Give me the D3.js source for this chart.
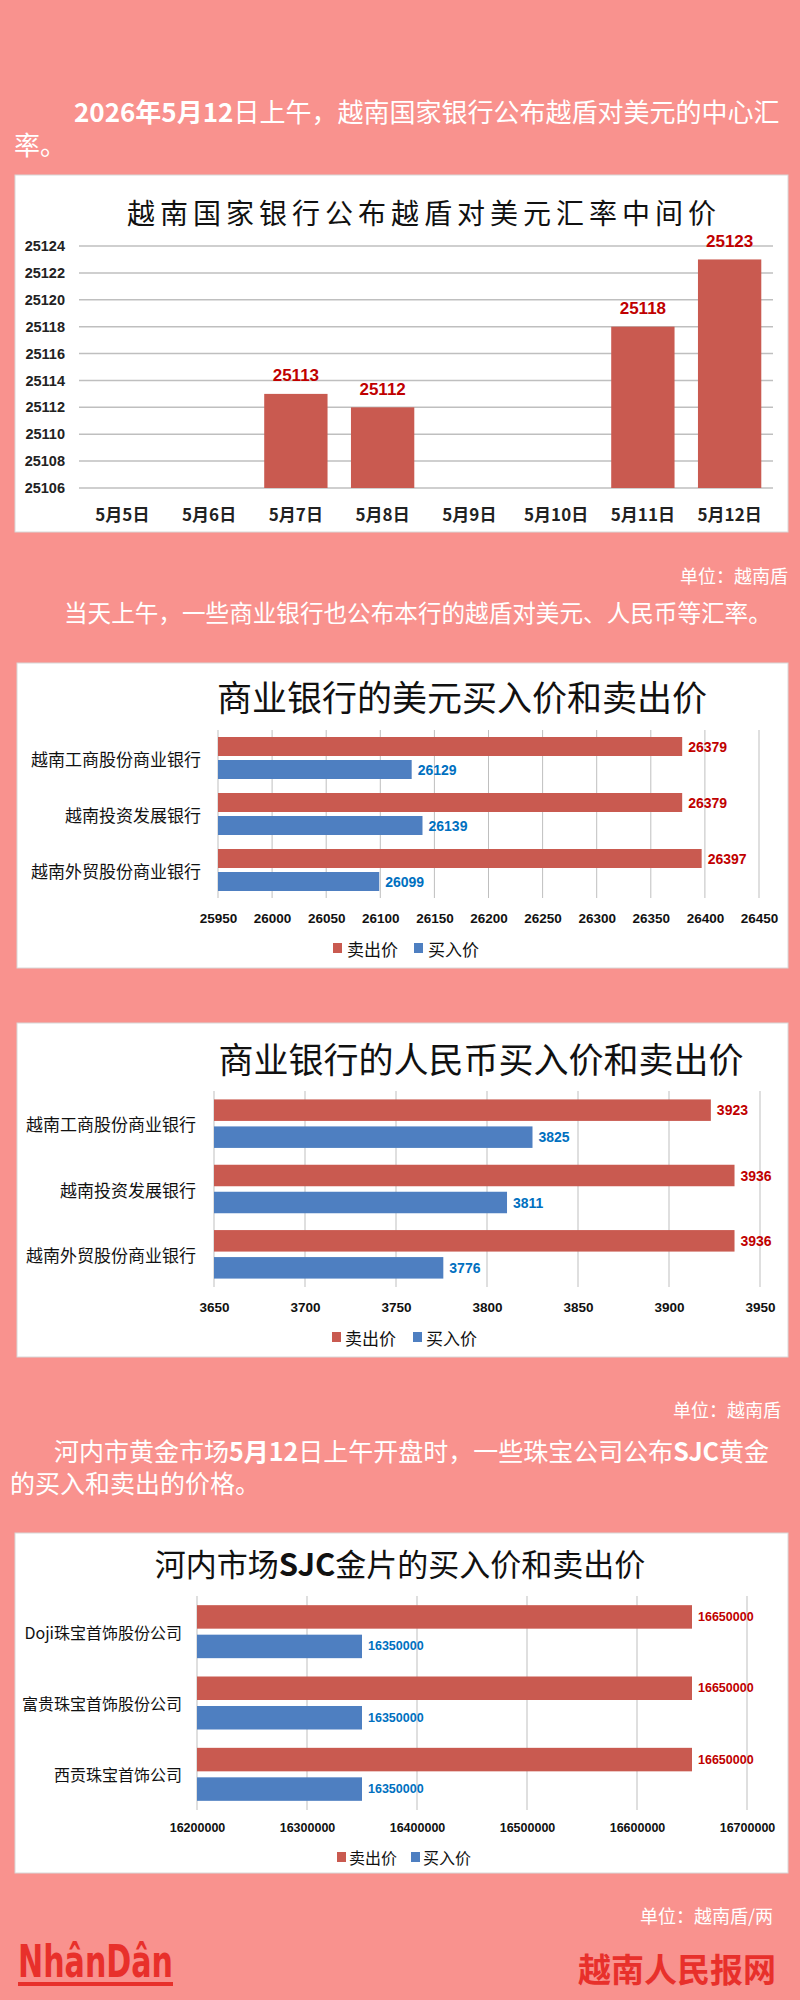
<!DOCTYPE html>
<html><head><meta charset="utf-8">
<script src="https://cdn.jsdelivr.net/npm/d3@7/dist/d3.min.js"></script>
<style>
html,body{margin:0;padding:0;background:#F9928E;}
svg{display:block;}
</style></head>
<body>
<script>
// ---------- DATA ----------
const days = ["5月5日","5月6日","5月7日","5月8日","5月9日","5月10日","5月11日","5月12日"];
const midRate = [null, null, 25113, 25112, null, null, 25118, 25123];
const midTicks = [25106,25108,25110,25112,25114,25116,25118,25120,25122,25124];

const series = ["卖出价","买入价"];
const banks = ["越南工商股份商业银行","越南投资发展银行","越南外贸股份商业银行"];
const usdSell = [26379, 26379, 26397];
const usdBuy  = [26129, 26139, 26099];
const usdTicks = [25950,26000,26050,26100,26150,26200,26250,26300,26350,26400,26450];

const cnySell = [3923, 3936, 3936];
const cnyBuy  = [3825, 3811, 3776];
const cnyTicks = [3650,3700,3750,3800,3850,3900,3950];

const goldShops = ["Doji珠宝首饰股份公司","富贵珠宝首饰股份公司","西贡珠宝首饰公司"];
const goldSell = [16650000, 16650000, 16650000];
const goldBuy  = [16350000, 16350000, 16350000];
const goldTicks = [16200000,16300000,16400000,16500000,16600000,16700000];

// ---------- STYLE ----------
const W = 800, H = 2000;
const BG = "#F9928E", RED = "#C95A50", BLUE = "#4E7FC1";
const LRED = "#C00000", LBLUE = "#0070C0", GRID = "#BFBFBF";
const CJK = "'Noto Sans CJK SC','Noto Sans',sans-serif";
const NUM = "'Liberation Sans',Arial,'DejaVu Sans',sans-serif";

const svg = d3.select("body").append("svg").attr("width", W).attr("height", H);
svg.append("rect").attr("width", W).attr("height", H).attr("fill", BG);

function txt(g, x, y, s, o) {
  o = o || {};
  return g.append("text").attr("x", x).attr("y", y)
    .attr("dominant-baseline", "central")
    .attr("text-anchor", o.anchor || "start")
    .attr("font-family", o.family || CJK)
    .attr("font-size", o.size || 16)
    .attr("font-weight", o.weight || 400)
    .attr("fill", o.fill || "#000")
    .attr("letter-spacing", o.ls || null)
    .text(s);
}
function panel(x, y, w, h) {
  svg.append("rect").attr("x", x).attr("y", y).attr("width", w).attr("height", h)
    .attr("fill", "#fff").attr("stroke", "#d8d8d8").attr("stroke-width", 1);
}

// ---------- PARAGRAPH 1 ----------
{
  const t = svg.append("text").attr("x", 74).attr("y", 110).attr("dominant-baseline", "central")
    .attr("font-family", CJK).attr("font-size", 26).attr("fill", "#fff");
  t.append("tspan").attr("font-weight", 700).text("2026年5月12");
  t.append("tspan").text("日上午，越南国家银行公布越盾对美元的中心汇");
  txt(svg, 14, 143, "率。", {size: 26, fill: "#fff"});
}

// ---------- CHART 1 : vertical bars ----------
panel(15, 175, 773, 357);
{
  const g = svg.append("g");
  txt(g, 424, 212, "越南国家银行公布越盾对美元汇率中间价", {anchor: "middle", size: 28, ls: 5, fill: "#111"});
  const x = d3.scaleBand().domain(days).range([79, 773]).paddingInner(0.27).paddingOuter(0.135);
  const y = d3.scaleLinear().domain([d3.min(midTicks), d3.max(midTicks)]).range([488, 246]);
  g.selectAll(".grid").data(midTicks).join("line")
    .attr("x1", 79).attr("x2", 773).attr("y1", d => y(d)).attr("y2", d => y(d))
    .attr("stroke", GRID).attr("stroke-width", 1.5);
  const yAxis = d3.axisLeft(y).tickValues(midTicks).tickFormat(d3.format("d")).tickSize(0).tickPadding(0);
  const ya = g.append("g").attr("transform", "translate(65,0)").call(yAxis);
  ya.select(".domain").remove();
  ya.selectAll("text").attr("font-family", NUM).attr("font-size", 14.5).attr("font-weight", 700).attr("fill", "#222");
  const xAxis = d3.axisBottom(x).tickSize(0).tickPadding(0);
  const xa = g.append("g").attr("transform", "translate(0,513)").call(xAxis);
  xa.select(".domain").remove();
  xa.selectAll("text").attr("dy", null).attr("dominant-baseline", "central")
    .attr("font-family", CJK).attr("font-size", 17).attr("font-weight", 700).attr("fill", "#222");
  const pts = days.map((d, i) => ({d, v: midRate[i]})).filter(p => p.v != null);
  g.selectAll(".bar").data(pts).join("rect")
    .attr("x", p => x(p.d)).attr("width", x.bandwidth())
    .attr("y", p => y(p.v)).attr("height", p => y(d3.min(midTicks)) - y(p.v))
    .attr("fill", RED);
  g.selectAll(".lab").data(pts).join("text")
    .attr("x", p => x(p.d) + x.bandwidth() / 2).attr("y", p => y(p.v) - 18)
    .attr("text-anchor", "middle").attr("dominant-baseline", "central")
    .attr("font-family", NUM).attr("font-size", 17).attr("font-weight", 700).attr("fill", LRED)
    .text(p => p.v);
}

txt(svg, 788, 575, "单位：越南盾", {anchor: "end", size: 18, fill: "#fff"});
txt(svg, 64, 612, "当天上午，一些商业银行也公布本行的越盾对美元、人民币等汇率。", {size: 23.6, fill: "#fff"});

// ---------- horizontal grouped bar chart ----------
function hbar(cfg) {
  const g = svg.append("g");
  const title = txt(g, cfg.titleX, cfg.titleY, "", {anchor: "middle", size: cfg.titleSize, fill: "#111"});
  cfg.titleParts.forEach(p => title.append("tspan").attr("font-weight", p.b ? 700 : 400).text(p.t));
  const x = d3.scaleLinear().domain([d3.min(cfg.ticks), d3.max(cfg.ticks)]).range([cfg.x0, cfg.x1]);
  const yG = d3.scaleBand().domain(cfg.cats).range([cfg.top, cfg.bottom]);
  const step = yG.bandwidth();
  const inStep = cfg.barH + cfg.gap;
  const yS = d3.scaleBand().domain(series).range([0, step])
    .paddingInner(cfg.gap / inStep).paddingOuter((step - 2 * cfg.barH - cfg.gap) / 2 / inStep);
  g.selectAll(".grid").data(cfg.ticks).join("line")
    .attr("x1", d => x(d)).attr("x2", d => x(d)).attr("y1", cfg.top).attr("y2", cfg.bottom)
    .attr("stroke", GRID).attr("stroke-width", 1);
  const xa = g.append("g").attr("transform", `translate(0,${cfg.tickY})`)
    .call(d3.axisBottom(x).tickValues(cfg.ticks).tickFormat(d3.format("d")).tickSize(0).tickPadding(0));
  xa.select(".domain").remove();
  xa.selectAll("text").attr("dy", null).attr("dominant-baseline", "central")
    .attr("font-family", NUM).attr("font-size", cfg.tickSize).attr("font-weight", 700).attr("fill", "#111");
  const ya = g.append("g").attr("transform", `translate(${cfg.catX},0)`)
    .call(d3.axisLeft(yG).tickSize(0).tickPadding(0));
  ya.select(".domain").remove();
  ya.selectAll("text").attr("dy", null).attr("dominant-baseline", "central")
    .attr("font-family", CJK).attr("font-size", cfg.catSize).attr("fill", "#111");
  const rows = [];
  cfg.cats.forEach((c, i) => {
    rows.push({c, s: series[0], v: cfg.sell[i], col: RED, lc: LRED});
    rows.push({c, s: series[1], v: cfg.buy[i], col: BLUE, lc: LBLUE});
  });
  g.selectAll(".bar").data(rows).join("rect")
    .attr("x", x.range()[0]).attr("y", r => yG(r.c) + yS(r.s))
    .attr("width", r => x(r.v) - x.range()[0]).attr("height", yS.bandwidth())
    .attr("fill", r => r.col);
  g.selectAll(".lab").data(rows).join("text")
    .attr("x", r => x(r.v) + 6).attr("y", r => yG(r.c) + yS(r.s) + yS.bandwidth() / 2)
    .attr("dominant-baseline", "central")
    .attr("font-family", NUM).attr("font-size", cfg.labSize).attr("font-weight", 700)
    .attr("fill", r => r.lc).text(r => r.v);
  // legend
  const lg = g.append("g");
  const cols = [RED, BLUE];
  series.forEach((s, i) => {
    lg.append("rect").attr("x", cfg.legX[i]).attr("y", cfg.legY - 5).attr("width", 9).attr("height", 10).attr("fill", cols[i]);
    txt(lg, cfg.legX[i] + cfg.legGap, cfg.legY, s, {size: cfg.legSize, fill: "#111"});
  });
}

panel(17, 663, 771, 305);
hbar({
  titleParts: [{t: "商业银行的美元买入价和卖出价"}], titleX: 462, titleY: 695, titleSize: 35,
  ticks: usdTicks, x0: 218, x1: 759, top: 730, bottom: 898, tickY: 918, tickSize: 13.5,
  cats: banks, sell: usdSell, buy: usdBuy, barH: 19, gap: 4, catX: 201, catSize: 17, labSize: 14,
  legX: [333, 414], legGap: 14, legY: 948, legSize: 17
});

panel(17, 1023, 771, 334);
hbar({
  titleParts: [{t: "商业银行的人民币买入价和卖出价"}], titleX: 481, titleY: 1057, titleSize: 35,
  ticks: cnyTicks, x0: 214, x1: 760, top: 1091, bottom: 1287, tickY: 1307, tickSize: 13.5,
  cats: banks, sell: cnySell, buy: cnyBuy, barH: 21.5, gap: 5.5, catX: 196, catSize: 17, labSize: 14,
  legX: [332, 413], legGap: 13, legY: 1337, legSize: 17
});

txt(svg, 781, 1409, "单位：越南盾", {anchor: "end", size: 18, fill: "#fff"});
{
  const t = svg.append("text").attr("x", 54).attr("y", 1450).attr("dominant-baseline", "central")
    .attr("font-family", CJK).attr("font-size", 25).attr("fill", "#fff");
  t.append("tspan").text("河内市黄金市场");
  t.append("tspan").attr("font-weight", 700).text("5月12");
  t.append("tspan").text("日上午开盘时，一些珠宝公司公布");
  t.append("tspan").attr("font-weight", 700).text("SJC");
  t.append("tspan").text("黄金");
  txt(svg, 10, 1482, "的买入和卖出的价格。", {size: 25, fill: "#fff"});
}

panel(15, 1533, 773, 340);
hbar({
  titleParts: [{t: "河内市场"}, {t: "SJC", b: true}, {t: "金片的买入价和卖出价"}], titleX: 400, titleY: 1562, titleSize: 31,
  ticks: goldTicks, x0: 197, x1: 747, top: 1596, bottom: 1810, tickY: 1828, tickSize: 12.5,
  cats: goldShops, sell: goldSell, buy: goldBuy, barH: 23.5, gap: 6, catX: 182, catSize: 16, labSize: 12.5,
  legX: [337, 411], legGap: 12, legY: 1857, legSize: 16
});

txt(svg, 773, 1915, "单位：越南盾/两", {anchor: "end", size: 18, fill: "#fff"});

// ---------- FOOTER ----------
svg.append("text").attr("x", 18).attr("y", 1977)
  .attr("font-family", "'Liberation Sans Narrow','DejaVu Sans Condensed','Liberation Sans',sans-serif")
  .attr("font-size", 44).attr("font-weight", 700).attr("fill", "#E8302B")
  .attr("textLength", 155).attr("lengthAdjust", "spacingAndGlyphs").text("NhânDân");
svg.append("rect").attr("x", 18).attr("y", 1982).attr("width", 155).attr("height", 4).attr("fill", "#E8302B");
txt(svg, 776, 1968, "越南人民报网", {anchor: "end", size: 33, weight: 700, fill: "#E8302B"});
</script>
</body></html>
